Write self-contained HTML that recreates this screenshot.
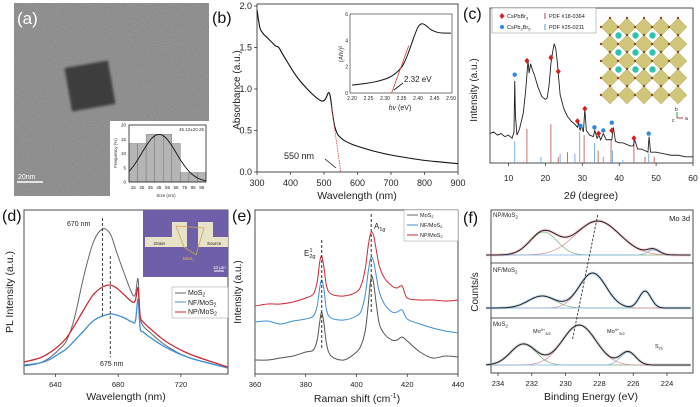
<!DOCTYPE html>
<html><head><meta charset="utf-8"><style>
html,body{margin:0;padding:0;background:#fff;}
svg{display:block;font-family:"Liberation Sans",Arial,sans-serif;}
</style></head><body>
<svg id="fig" width="700" height="407" viewBox="0 0 700 407" xmlns="http://www.w3.org/2000/svg">
<defs>
<filter id="noise" x="0" y="0" width="100%" height="100%"><feTurbulence type="fractalNoise" baseFrequency="1.1" numOctaves="2" seed="3"/><feColorMatrix type="matrix" values="0 0 0 0 0.35  0 0 0 0 0.35  0 0 0 0 0.35  0 0 0 2.2 -0.9"/></filter>
<filter id="blur1"><feGaussianBlur stdDeviation="1.2"/></filter>
</defs>
<g>
<rect x="14" y="3" width="195" height="193" fill="#8a8a8a"/>
<rect x="14" y="3" width="195" height="193" filter="url(#noise)"/>
<rect x="68" y="64" width="44" height="44" fill="#3e3e3e" transform="rotate(-10 90 86)" filter="url(#blur1)"/>
<text x="17" y="24" font-size="17" fill="#fff">(a)</text>
<line x1="17" y1="182" x2="43" y2="182" stroke="#fff" stroke-width="1.5"/>
<text x="18" y="179" font-size="7" fill="#fff">20nm</text>
<rect x="110" y="121" width="99" height="77" fill="#fff"/>
<text x="204" y="131" font-size="4.5" text-anchor="end" fill="#333">45.12±20.25</text>
<text x="166" y="197" font-size="4.5" text-anchor="middle" fill="#333">Size (nm)</text>
<text x="117" y="153" font-size="4.5" text-anchor="middle" fill="#333" transform="rotate(-90 117 153)">Frequency (%)</text>
<g id="hist"></g>
</g>
<g>
<text x="212" y="23" font-size="16" fill="#111">(b)</text>
<text x="240" y="90" font-size="10" text-anchor="middle" fill="#222" transform="rotate(-90 240 90)">Absorbance (a.u.)</text>
<text x="357" y="199" font-size="10.5" text-anchor="middle" fill="#222">Wavelength (nm)</text>
<g id="pb"></g>
<text x="284" y="159" font-size="9" fill="#222">550 nm</text>
<line x1="325" y1="159" x2="336" y2="168" stroke="#111" stroke-width="0.8"/>
<text x="404" y="82" font-size="8" fill="#222">2.32 eV</text>
<line x1="403" y1="83" x2="394" y2="90" stroke="#111" stroke-width="0.8"/>
<text x="400" y="110" font-size="7" text-anchor="middle" fill="#222"><tspan font-style="italic">hv</tspan> (eV)</text>
<text x="343" y="54" font-size="6" text-anchor="middle" fill="#222" transform="rotate(-90 343 54)">(<tspan font-style="italic">Ahv</tspan>)²</text>
</g>
<g>
<text x="463" y="19" font-size="16" fill="#111">(c)</text>
<text x="477" y="90" font-size="10" text-anchor="middle" fill="#222" transform="rotate(-90 477 90)">Intensity (a.u.)</text>
<text x="591" y="199" font-size="10.5" text-anchor="middle" fill="#222">2<tspan font-style="italic">θ</tspan> (degree)</text>
<g id="pc"></g>
<g id="crystal"></g>
<rect x="492" y="8" width="104" height="25" fill="#fff" stroke="#888" stroke-width="0.5"/>
<path d="M502 13 l2.5 3 l-2.5 3 l-2.5 -3z" fill="#d41f1f"/>
<text x="507" y="18" font-size="5.5" fill="#222">CsPbBr<tspan font-size="4" dy="1.5">3</tspan></text>
<circle cx="502" cy="27" r="2" fill="#2a8ae0"/>
<text x="507" y="29" font-size="5.5" fill="#222">CsPb<tspan font-size="4" dy="1.5">2</tspan><tspan dy="-1.5">Br</tspan><tspan font-size="4" dy="1.5">5</tspan></text>
<line x1="545" y1="13" x2="545" y2="19" stroke="#b04848"/>
<text x="549" y="18" font-size="5.5" fill="#222">PDF #18-0364</text>
<line x1="545" y1="24" x2="545" y2="30" stroke="#5a9ad8"/>
<text x="549" y="29" font-size="5.5" fill="#222">PDF #25-0211</text>
</g>
<g>
<text x="2" y="221" font-size="16" fill="#111">(d)</text>
<text x="13" y="292" font-size="10.5" text-anchor="middle" fill="#222" transform="rotate(-90 13 292)">PL Intensity (a.u.)</text>
<text x="126" y="400" font-size="10.5" text-anchor="middle" fill="#222">Wavelength (nm)</text>
<g id="pd"></g>
<g>
<rect x="143" y="210" width="85" height="67" fill="#6e5fa8"/>
<rect x="145" y="237" width="40" height="10" fill="#e8e2c8"/>
<rect x="172" y="222" width="15" height="25" fill="#e8e2c8"/>
<rect x="198" y="222" width="15" height="25" fill="#e8e2c8"/>
<rect x="198" y="237" width="30" height="10" fill="#e8e2c8"/>
<path d="M176 226 L204 228 L196 255 L184 247 Z" fill="none" stroke="#c9a850" stroke-width="0.8"/>
<text x="153" y="245" font-size="4.5" fill="#222">.Drain</text>
<text x="207" y="245" font-size="4.5" fill="#222">Source</text>
<text x="183" y="260" font-size="4.5" fill="#e8c060">MoS₂</text>
<line x1="214" y1="271" x2="224" y2="271" stroke="#fff" stroke-width="1"/>
<text x="213" y="269" font-size="4.5" fill="#fff">10 µm</text>
</g>
<rect x="172" y="287" width="56" height="31" fill="#fff" stroke="#999" stroke-width="0.5"/>
<line x1="175" y1="293" x2="186" y2="293" stroke="#666" stroke-width="1"/>
<text x="188" y="295" font-size="7" fill="#222">MoS<tspan font-size="5" dy="1.5">2</tspan></text>
<line x1="175" y1="302" x2="186" y2="302" stroke="#3d8fd6" stroke-width="1"/>
<text x="188" y="305" font-size="7" fill="#222">NF/MoS<tspan font-size="5" dy="1.5">2</tspan></text>
<line x1="175" y1="312" x2="186" y2="312" stroke="#cc2a35" stroke-width="1"/>
<text x="188" y="314" font-size="7" fill="#222">NP/MoS<tspan font-size="5" dy="1.5">2</tspan></text>
<text x="67" y="226" font-size="7" fill="#222">670 nm</text>
<text x="100" y="366" font-size="7" fill="#222">675 nm</text>
</g>
<g>
<text x="232" y="221" font-size="16" fill="#111">(e)</text>
<text x="241" y="292" font-size="10" text-anchor="middle" fill="#222" transform="rotate(-90 241 292)">Intensity (a.u.)</text>
<text x="357" y="402" font-size="10.5" text-anchor="middle" fill="#222">Raman shift (cm<tspan font-size="7" dy="-4">-1</tspan><tspan dy="4">)</tspan></text>
<g id="pe"></g>
<text x="304" y="256" font-size="8" fill="#222">E<tspan font-size="5.5" dy="2">2g</tspan><tspan font-size="5.5" dx="-6" dy="-6">1</tspan></text>
<text x="374" y="229" font-size="8" fill="#222">A<tspan font-size="5.5" dy="2">1g</tspan></text>
<rect x="404" y="210" width="54" height="31" fill="#fff" stroke="#999" stroke-width="0.5"/>
<line x1="407" y1="215" x2="418" y2="215" stroke="#666"/>
<text x="420" y="217" font-size="5.5" fill="#222">MoS<tspan font-size="4" dy="1.2">2</tspan></text>
<line x1="407" y1="225" x2="418" y2="225" stroke="#3d8fd6"/>
<text x="420" y="227" font-size="5.5" fill="#222">NF/MoS<tspan font-size="4" dy="1.2">2</tspan></text>
<line x1="407" y1="235" x2="418" y2="235" stroke="#cc2a35"/>
<text x="420" y="237" font-size="5.5" fill="#222">NP/MoS<tspan font-size="4" dy="1.2">2</tspan></text>
</g>
<g>
<text x="463" y="223" font-size="16" fill="#111">(f)</text>
<text x="478" y="292" font-size="10" text-anchor="middle" fill="#222" transform="rotate(-90 478 292)">Counts/s</text>
<text x="591" y="400" font-size="10.5" text-anchor="middle" fill="#222">Binding Energy (eV)</text>
<g id="pf"></g>
<text x="493" y="217" font-size="6" fill="#222">NP/MoS<tspan font-size="4.5" dy="1.5">2</tspan></text>
<text x="690" y="221" font-size="7.5" text-anchor="end" fill="#222">Mo 3d</text>
<text x="493" y="272" font-size="6" fill="#222">NF/MoS<tspan font-size="4.5" dy="1.5">2</tspan></text>
<text x="493" y="326" font-size="6" fill="#222">MoS<tspan font-size="4.5" dy="1.5">2</tspan></text>
<text x="533" y="333" font-size="5.5" fill="#222">Mo<tspan font-size="4" dy="-2">4+</tspan><tspan font-size="4" dy="4">3/2</tspan></text>
<text x="607" y="333" font-size="5.5" fill="#222">Mo<tspan font-size="4" dy="-2">4+</tspan><tspan font-size="4" dy="4">5/2</tspan></text>
<text x="655" y="348" font-size="5.5" fill="#222">S<tspan font-size="4" dy="1.5">2s</tspan></text>
</g>
</svg>
<script>
const histCats = [15,25,35,45,55,65,75,85,95];
const histFreq = [13.5,13.5,16.7,16.7,16.7,13.5,3.3,3.3,3.3];
const histTicksY = [0,5,10,15,20];
const histMean = 45.12, histSd = 20.25;

const absWl = [300,305,310,320,330,345,355,365,375,390,410,430,450,470,490,500,507,512,516,520,525,532,540,548,560,580,600,650,700,750,800,850,900];
const absVal = [1.95,1.82,1.72,1.66,1.62,1.56,1.52,1.50,1.43,1.33,1.20,1.09,1.00,0.92,0.86,0.86,0.90,0.95,0.95,0.88,0.72,0.55,0.46,0.42,0.38,0.34,0.31,0.25,0.205,0.17,0.14,0.12,0.10];
const absTicksX = [300,400,500,600,700,800,900];
const absTicksY = [0.0,0.5,1.0,1.5,2.0];
const taucE = [2.20,2.24,2.27,2.29,2.31,2.33,2.35,2.36,2.37,2.38,2.39,2.40,2.41,2.42,2.43,2.44,2.46,2.48,2.50];
const taucV = [0.6,0.72,0.85,0.98,1.15,1.45,1.95,2.4,3.0,3.7,4.4,5.0,5.25,5.2,5.0,4.8,4.6,4.55,4.55];
const taucTicksX = ["2.20","2.25","2.30","2.35","2.40","2.45","2.50"];
const taucTicksY = [0,2,4,6];

const xrdTheta = [5,6,7,8,9,10,11,11.5,11.7,11.9,12.3,13,14,14.6,15,15.3,15.6,16,16.5,17,18,19,20,20.5,21,21.5,22,22.4,22.8,23.2,23.6,24,25,26,27,28,28.7,29,29.4,29.8,30.3,30.7,31.1,32,33,33.4,34,34.5,35,35.7,36.5,37.5,38,38.4,39,40,41,42,43,43.8,44.2,45,46,47,47.8,48.1,48.5,50,52,54,56,58,60];
const xrdInt = [19,20,18,19,17,18,16,20,53,30,18,22,32,45,57,66,58,64,60,57,49,43,41,42,50,64,72,77,74,66,55,44,35,30,27,25,23,26,21,24,20,35,21,18,17,21,16,18,15,19,15,15,15,23,14,13,13,12,11,11,15,9,9,8,7,17,7,7,6,5,5,4,4];
const pdfRedPos = [15,21.5,23.5,26,30.5,34.3,37.8,44,47,49.5];
const pdfRedH = [22,25,4,7,18,8,15,15,4,4];
const pdfBluePos = [11.7,18.8,24,28,29.3,33.3,35.7,38.2,41,48];
const pdfBlueH = [14,4,6,6,20,13,4,8,2,6];
const mkRedPos = [15,21.5,23.5,28.7,30.7,34.4,38,44];
const mkRedY = [66,68,59,27,35,19,21,16];
const mkBluePos = [11.7,29.5,33.3,35.7,38,48];
const mkBlueY = [57,24,23,21,26,19];
const xrdTicksX = [10,20,30,40,50,60];

const plWl = [620,630,637,642,647,652,658,664,670,675,679,684,689,691,692.7,694,696,700,710,724,740,750];
const plMoS2 = [8,11,17,24,33,55,97,131,145,140,122,100,80,80,95,58,48,42,29,17,10,6];
const plNP = [12,16,22,28,36,48,64,79,87,89,86,79,72,74,86,58,52,46,33,21,12,7];
const plNF = [9,11,15,20,25,33,43,53,58,60,59,56,52,53,75,46,42,37,27,17,10,6];
const plTicksX = [640,680,720];

const ramanShift = [360,365,370,375,380,383,384.5,385.5,386.3,387.2,388.2,390,395,400,402,403.5,404.5,405.3,406,406.8,407.8,409,411,414,416,418,420,425,430,435,440];
const ramanMoS2 = [14,14,16,18,22,24,34,52,62,50,30,18,14,22,30,44,66,88,98,90,70,50,40,34,34,37,33,22,16,18,17];
const ramanNF = [52,53,50,53,55,58,68,86,94,84,64,56,54,58,64,80,100,113,117,112,98,82,70,62,62,64,55,50,46,43,41];
const ramanNP = [68,70,70,72,76,80,92,112,118,106,88,80,78,82,90,106,126,138,142,138,124,108,96,88,86,88,76,74,74,73,74];
const ramanTicksX = [360,380,400,420,440];

const xpsNPCenter = [231.3,228.1,224.8], xpsNPHeight = [23,34,5], xpsNPWidth = [0.8,1.3,0.35];
const xpsNFCenter = [231.4,228.4,225.3], xpsNFHeight = [12,35,17], xpsNFWidth = [0.8,0.8,0.35];
const xpsMoCenter = [232.5,229.2,226.3], xpsMoHeight = [21,40,13], xpsMoWidth = [0.75,1.0,0.45];
const xpsTicksX = [234,232,230,228,226,224];

const NS = 'http://www.w3.org/2000/svg';
function el(tag, attrs, name, parent){
  const e = document.createElementNS(NS, tag);
  for (const k in attrs) e.setAttribute(k, attrs[k]);
  
  
  parent.appendChild(e);
  return e;
}
function lin(d0,d1,r0,r1){ return v => r0 + (v-d0)*(r1-r0)/(d1-d0); }
function pathOf(xs, ys, sx, sy){ return xs.map((x,i)=>(i?'L':'M')+sx(x).toFixed(2)+' '+sy(ys[i]).toFixed(2)).join(' '); }
function smoothOf(xs, ys, sx, sy){
  const P = xs.map((x,i)=>[sx(x), sy(ys[i])]);
  let d = 'M'+P[0][0].toFixed(2)+' '+P[0][1].toFixed(2);
  for(let i=0;i<P.length-1;i++){
    const p0=P[Math.max(0,i-1)], p1=P[i], p2=P[i+1], p3=P[Math.min(P.length-1,i+2)];
    const c1=[p1[0]+(p2[0]-p0[0])/6, p1[1]+(p2[1]-p0[1])/6];
    const c2=[p2[0]-(p3[0]-p1[0])/6, p2[1]-(p3[1]-p1[1])/6];
    d += ` C${c1[0].toFixed(2)} ${c1[1].toFixed(2)} ${c2[0].toFixed(2)} ${c2[1].toFixed(2)} ${p2[0].toFixed(2)} ${p2[1].toFixed(2)}`;
  }
  return d;
}
function txt(p, x, y, s, size, anchor, name){
  const t = el('text', {x:x, y:y, 'font-size':size, 'text-anchor':anchor, fill:'#222'}, name, p);
  t.textContent = s; return t;
}
function frame(p, x0,y0,x1,y1, name){ el('rect',{x:x0,y:y0,width:x1-x0,height:y1-y0,fill:'none',stroke:'#222','stroke-width':0.8}, name, p); }

(function(){
  const g = document.getElementById('hist');
  const sx = lin(10,100,129,206), sy = lin(0,20,182,125);
  histCats.forEach((c,i)=>{
    el('rect',{x:sx(c-5),y:sy(histFreq[i]),width:sx(c+5)-sx(c-5),height:sy(0)-sy(histFreq[i]),fill:'#b5b5b5',stroke:'#666','stroke-width':0.4}, 'hist-bar', g);
    txt(g, sx(c), 189, String(c), 4.5, 'middle', 'hist-x-tick');
  });
  histTicksY.forEach(v=>txt(g, 126, sy(v)+1.5, String(v), 4.5, 'end', 'hist-y-tick'));
  const xs=[], ys=[]; const peak = Math.max(...histFreq);
  for(let s=10;s<=100;s+=1){ xs.push(s); ys.push(peak*Math.exp(-0.5*Math.pow((s-histMean)/histSd,2))); }
  el('path',{d:pathOf(xs,ys,sx,sy),fill:'none',stroke:'#111','stroke-width':0.9}, 'hist-gaussian-fit', g);
  frame(g,129,125,206,182,'hist-frame');
})();

(function(){
  const g = document.getElementById('pb');
  const sx = lin(300,900,257,458), sy = lin(0,2,172,6);
  frame(g,257,4,458,172,'plot-frame-b');
  absTicksX.forEach(v=>{ el('line',{x1:sx(v),y1:172,x2:sx(v),y2:175,stroke:'#222','stroke-width':0.7},'x-tick-b',g); txt(g,sx(v),186,String(v),9,'middle','x-tick-label-b'); });
  absTicksY.forEach(v=>{ el('line',{x1:254,y1:sy(v),x2:257,y2:sy(v),stroke:'#222','stroke-width':0.7},'y-tick-b',g); txt(g,252,sy(v)+3,v.toFixed(1),9,'end','y-tick-label-b'); });
  el('path',{d:smoothOf(absWl,absVal,sx,sy),fill:'none',stroke:'#111','stroke-width':1.1},'absorbance-line',g);
  el('line',{x1:sx(522),y1:sy(0.8),x2:sx(550),y2:sy(0),stroke:'#d04040','stroke-width':0.8,'stroke-dasharray':'1.5,1'},'tangent-line-b',g);
  const ix = lin(2.2,2.5,352,451), iy = lin(0,6,93,14);
  el('rect',{x:350,y:14,width:102,height:79,fill:'#fff',stroke:'#222','stroke-width':0.6},'inset-frame-b',g);
  taucTicksX.forEach(v=>txt(g,ix(+v),100,v,5,'middle','inset-x-tick-label'));
  taucTicksY.forEach(v=>txt(g,348,iy(v)+2,String(v),5,'end','inset-y-tick-label'));
  el('path',{d:smoothOf(taucE,taucV,ix,iy),fill:'none',stroke:'#111','stroke-width':1},'tauc-line',g);
  el('line',{x1:ix(2.32),y1:iy(0),x2:ix(2.372),y2:iy(3.6),stroke:'#d04040','stroke-width':0.8},'tauc-tangent',g);
})();

(function(){
  const g = document.getElementById('pc');
  const sx = lin(5,60,490,693), sy = lin(0,100,163,8);
  frame(g,490,8,693,163,'plot-frame-c');
  xrdTicksX.forEach(v=>{ el('line',{x1:sx(v),y1:163,x2:sx(v),y2:166,stroke:'#222','stroke-width':0.7},'x-tick-c',g); txt(g,sx(v),181,String(v),8.5,'middle','x-tick-label-c'); });
  pdfRedPos.forEach((p,i)=>el('line',{x1:sx(p),y1:163,x2:sx(p),y2:sy(pdfRedH[i]),stroke:'#c06060','stroke-width':0.9},'pdf-18-0364-bar',g));
  pdfBluePos.forEach((p,i)=>el('line',{x1:sx(p),y1:163,x2:sx(p),y2:sy(pdfBlueH[i]),stroke:'#70a8e0','stroke-width':0.9},'pdf-25-0211-bar',g));
  el('path',{d:pathOf(xrdTheta,xrdInt,sx,sy),fill:'none',stroke:'#222','stroke-width':0.9},'xrd-pattern',g);
  mkRedPos.forEach((p,i)=>{ const x=sx(p), y=sy(mkRedY[i]); el('path',{d:`M${x} ${y-3} L${x+2.5} ${y} L${x} ${y+3} L${x-2.5} ${y} Z`,fill:'#d41f1f'},'cspbbr3-marker',g); });
  mkBluePos.forEach((p,i)=>el('circle',{cx:sx(p),cy:sy(mkBlueY[i]),r:2.2,fill:'#2a8ae0'},'cspb2br5-marker',g));

  const cg = document.getElementById('crystal');
  for(let r=0;r<5;r++) for(let c=0;c<5;c++){
    const cx = 610 + c*17, cy = 27 + r*17;
    el('path',{d:`M${cx} ${cy-9} L${cx+9} ${cy} L${cx} ${cy+9} L${cx-9} ${cy} Z`,fill:'#cfc67a',stroke:'#a89c48','stroke-width':0.4},'octahedron',cg);
    el('circle',{cx:cx,cy:cy-9,r:1.2,fill:'#8a4a2a'},'br-atom',cg);
    el('circle',{cx:cx-9,cy:cy,r:1.2,fill:'#8a4a2a'},'br-atom',cg);
  }
  [627,644,661].forEach(x=>[44,61,78].forEach(y=>{
    el('circle',{cx:x-8.5,cy:y-8.5,r:4.5,fill:'#fff'},'cs-halo',cg);
    el('circle',{cx:x-8.5,cy:y-8.5,r:3.2,fill:'#2fc4a8'},'cs-atom',cg);
  }));
  el('line',{x1:677,y1:118,x2:683,y2:118,stroke:'#d03030'},'axis-a',cg);
  el('line',{x1:677,y1:118,x2:677,y2:112,stroke:'#30a030'},'axis-b',cg);
  txt(cg,685,120,'a',5,'start','axis-a-label'); txt(cg,675,111,'b',5,'start','axis-b-label'); txt(cg,672,122,'c',5,'start','axis-c-label');
})();

(function(){
  const g = document.getElementById('pd');
  const sx = lin(620,750,24,228), sy = lin(0,164,374,210);
  frame(g,24,210,228,374,'plot-frame-d');
  plTicksX.forEach(v=>{ el('line',{x1:sx(v),y1:374,x2:sx(v),y2:377,stroke:'#222','stroke-width':0.7},'x-tick-d',g); txt(g,sx(v),387,String(v),7.5,'middle','x-tick-label-d'); });
  el('path',{d:smoothOf(plWl,plMoS2,sx,sy),fill:'none',stroke:'#666','stroke-width':1},'pl-mos2-line',g);
  el('path',{d:smoothOf(plWl,plNF,sx,sy),fill:'none',stroke:'#3d8fd6','stroke-width':1.3},'pl-nf-mos2-line',g);
  el('path',{d:smoothOf(plWl,plNP,sx,sy),fill:'none',stroke:'#cc2a35','stroke-width':1.3},'pl-np-mos2-line',g);
  el('line',{x1:sx(670),y1:218,x2:sx(670),y2:316,stroke:'#444','stroke-width':1,'stroke-dasharray':'3,2'},'peak-670-line',g);
  el('line',{x1:sx(675),y1:256,x2:sx(675),y2:357,stroke:'#444','stroke-width':1,'stroke-dasharray':'3,2'},'peak-675-line',g);
})();

(function(){
  const g = document.getElementById('pe');
  const sx = lin(360,440,255,458), sy = lin(0,164,374,210);
  frame(g,255,210,458,374,'plot-frame-e');
  ramanTicksX.forEach(v=>{ el('line',{x1:sx(v),y1:374,x2:sx(v),y2:377,stroke:'#222','stroke-width':0.7},'x-tick-e',g); txt(g,sx(v),387,String(v),7.5,'middle','x-tick-label-e'); });
  el('path',{d:smoothOf(ramanShift,ramanMoS2,sx,sy),fill:'none',stroke:'#555','stroke-width':1},'raman-mos2-line',g);
  el('path',{d:smoothOf(ramanShift,ramanNF,sx,sy),fill:'none',stroke:'#3d8fd6','stroke-width':1},'raman-nf-mos2-line',g);
  el('path',{d:smoothOf(ramanShift,ramanNP,sx,sy),fill:'none',stroke:'#cc2a35','stroke-width':1},'raman-np-mos2-line',g);
  el('line',{x1:sx(386.3),y1:240,x2:sx(386.3),y2:348,stroke:'#333','stroke-width':1,'stroke-dasharray':'3,2'},'e2g-line',g);
  el('line',{x1:sx(405.8),y1:214,x2:sx(405.8),y2:312,stroke:'#333','stroke-width':1,'stroke-dasharray':'3,2'},'a1g-line',g);
})();

(function(){
  const g = document.getElementById('pf');
  const sx = lin(234,224,498,667);
  frame(g,491,210,693,373,'plot-frame-f');
  el('line',{x1:491,y1:263,x2:693,y2:263,stroke:'#222','stroke-width':0.8},'subpanel-divider',g);
  el('line',{x1:491,y1:318,x2:693,y2:318,stroke:'#222','stroke-width':0.8},'subpanel-divider',g);
  xpsTicksX.forEach(v=>{ el('line',{x1:sx(v),y1:373,x2:sx(v),y2:376,stroke:'#222','stroke-width':0.7},'x-tick-f',g); txt(g,sx(v),386,String(v),7.5,'middle','x-tick-label-f'); });
  const Es=[]; for(let e=234.7;e>=222.6;e-=0.1) Es.push(+e.toFixed(2));
  const compColors=['#7ab07a','#e08a9a','#7ab0e0'];
  function sub(base, centers, heights, widths, dotColor, name){
    const sy = v => base - v;
    const sum = Es.map(e=>centers.reduce((s,c,i)=>s+heights[i]*Math.exp(-0.5*Math.pow((e-c)/widths[i],2)),0));
    el('path',{d:pathOf(Es,sum,sx,sy),fill:'none',stroke:dotColor,'stroke-width':3,opacity:0.45},name+'-raw-data',g);
    centers.forEach((c,i)=>{
      const comp = Es.map(e=>heights[i]*Math.exp(-0.5*Math.pow((e-c)/widths[i],2)));
      el('path',{d:pathOf(Es,comp,sx,sy),fill:'none',stroke:compColors[i],'stroke-width':0.7},name+'-component',g);
    });
    el('path',{d:pathOf(Es,sum,sx,sy),fill:'none',stroke:'#222','stroke-width':1},name+'-fit',g);
  }
  sub(255, xpsNPCenter, xpsNPHeight, xpsNPWidth, '#e8a0a8', 'xps-np-mos2');
  sub(308, xpsNFCenter, xpsNFHeight, xpsNFWidth, '#8cc4ec', 'xps-nf-mos2');
  sub(365, xpsMoCenter, xpsMoHeight, xpsMoWidth, '#b0b0b0', 'xps-mos2');
  el('line',{x1:sx(228.1),y1:215,x2:sx(229.6),y2:340,stroke:'#333','stroke-width':0.9,'stroke-dasharray':'2.5,1.5'},'peak-shift-line',g);
})();
</script>
</body></html>
